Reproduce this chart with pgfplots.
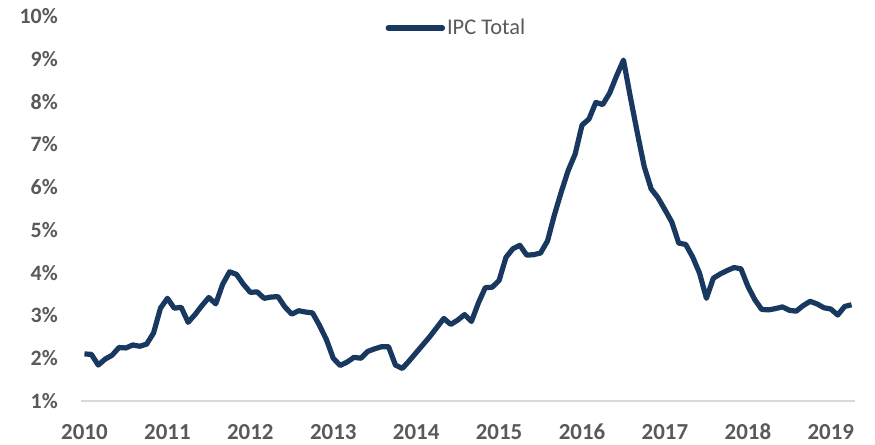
\documentclass[border=0pt]{standalone}
\usepackage{pgfplots}
\pgfplotsset{compat=1.18}
\usepackage{pgfplotstable}
\usepackage{fontspec}
\setmainfont{Carlito}
\definecolor{navy}{RGB}{25,56,96}
\definecolor{tickgray}{RGB}{89,89,89}
\definecolor{axgray}{RGB}{217,217,217}
\pgfplotstableread{
v
2.10
2.09
1.84
1.98
2.07
2.25
2.24
2.31
2.28
2.33
2.59
3.17
3.40
3.17
3.19
2.84
3.02
3.23
3.42
3.27
3.73
4.02
3.96
3.73
3.54
3.55
3.40
3.43
3.44
3.20
3.03
3.11
3.08
3.06
2.77
2.44
2.00
1.83
1.91
2.02
2.00
2.16
2.22
2.27
2.27
1.84
1.76
1.94
2.13
2.32
2.51
2.72
2.93
2.79
2.89
3.02
2.86
3.29
3.65
3.66
3.82
4.36
4.56
4.64
4.41
4.42
4.46
4.74
5.35
5.89
6.39
6.77
7.45
7.59
7.98
7.93
8.20
8.60
8.97
8.10
7.27
6.48
5.96
5.75
5.47
5.18
4.69
4.66
4.37
3.99
3.40
3.87
3.97
4.05
4.12
4.09
3.68
3.37
3.14
3.13
3.16
3.20
3.12
3.10
3.23
3.33
3.27
3.18
3.15
3.01
3.21
3.25
}\ipc
\begin{document}
\begin{tikzpicture}
\begin{axis}[
  scale only axis, width=774bp, height=385bp,
  xmin=-0.5, xmax=111.5, ymin=1, ymax=10,
  axis x line*=bottom, axis y line*=left,
  y axis line style={draw=none},
  x axis line style={draw=axgray, line width=1.2bp},
  major tick length=0pt,
  xtick={0,12,24,36,48,60,72,84,96,108},
  xticklabels={2010,2011,2012,2013,2014,2015,2016,2017,2018,2019},
  ytick={1,2,3,4,5,6,7,8,9,10},
  yticklabels={1\%,2\%,3\%,4\%,5\%,6\%,7\%,8\%,9\%,10\%},
  yticklabel style={font=\bfseries\fontsize{22}{22}\selectfont, text=tickgray, anchor=east, inner sep=0pt, xshift=-23bp},
  xticklabel style={font=\bfseries\fontsize{23}{23}\selectfont, text=tickgray, anchor=center, inner sep=0pt, yshift=-31bp},
  legend style={draw=none, fill=none, at={(0.485,0.969)}, anchor=center,
    font=\fontsize{22.5}{23}\selectfont, text=tickgray},
  legend image code/.code={\draw[#1, line width=5.5bp, line cap=round] (0bp,0bp) -- (54bp,0bp);},
]
\addplot[navy, line width=5.2bp, line join=round] table[x expr=\coordindex, y=v] {\ipc};
\addlegendentry{IPC Total}
\end{axis}
\path[use as bounding box] (-81bp,-44bp) rectangle (794bp,401bp);
\end{tikzpicture}
\end{document}
